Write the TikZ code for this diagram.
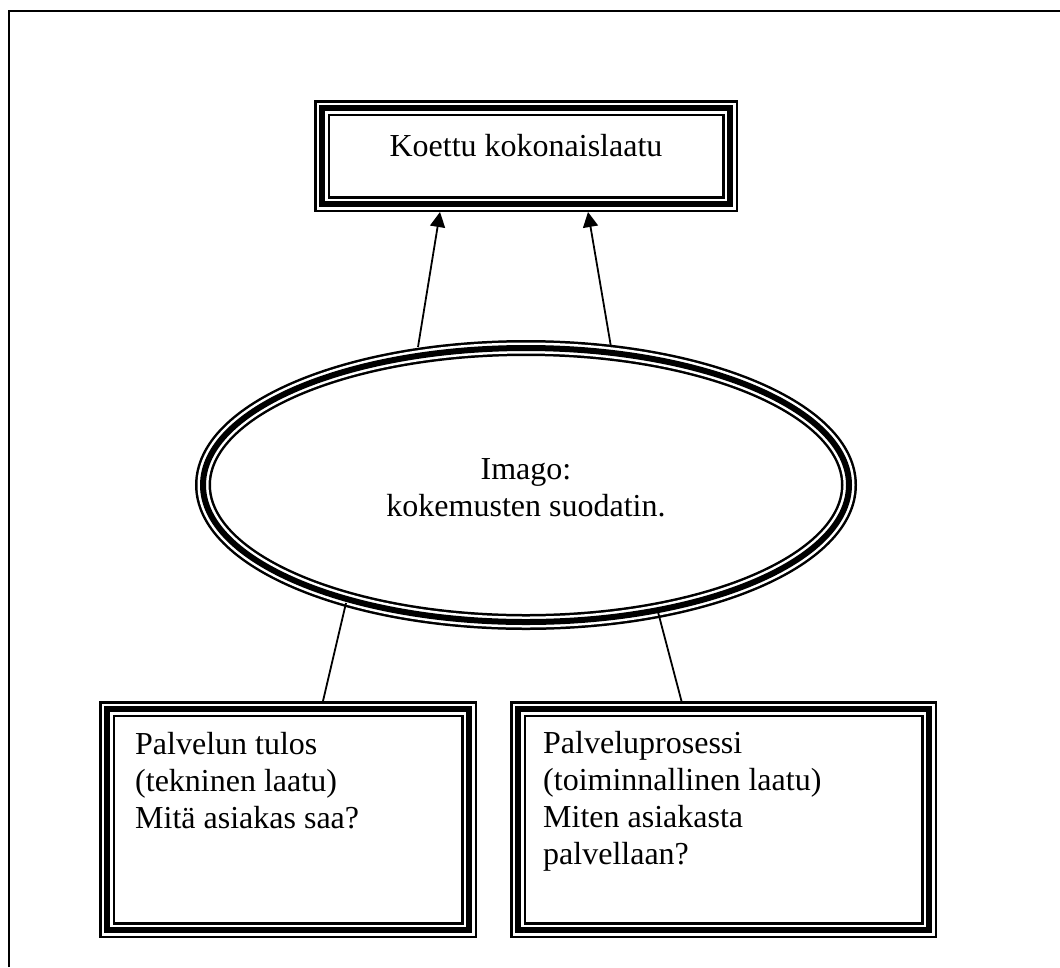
\documentclass[tikz,border=0pt]{standalone}
\usepackage{fontspec}
\setmainfont{Liberation Serif}
\usetikzlibrary{arrows.meta,shapes.geometric}
\begin{document}
\begin{tikzpicture}[x=1pt,y=-1pt,
  layA/.style={line width=16pt},
  layB/.style={line width=11pt, white},
  layC/.style={line width=6pt},
  frm/.style={inner sep=0pt, outer sep=0pt, draw=none},
  txt/.style={inner sep=0pt, font=\fontsize{32pt}{37pt}\selectfont, align=left},
  conn/.style={line width=1.8pt},
  arr/.style={conn, -{Triangle[length=15pt,width=15pt]}}]
\useasboundingbox (0,0) rectangle (1060,967);
% page frame
\draw[line width=2.2pt] (9,967) -- (9,11) -- (1060,11);
% nodes
\node[frm, minimum width=408pt, minimum height=96pt] (top) at (526,156) {};
\node[frm, ellipse, minimum width=646pt, minimum height=274pt] (ell) at (526,485) {};
\node[frm, minimum width=362pt, minimum height=221pt] (bl) at (288,819.5) {};
\node[frm, minimum width=411pt, minimum height=221pt] (br) at (723.5,819.5) {};
% triple frames
\foreach \n in {top,bl,br}{
  \draw[layA] (\n.south west) rectangle (\n.north east);
  \draw[layB] (\n.south west) rectangle (\n.north east);
  \draw[layC] (\n.south west) rectangle (\n.north east);
}
\draw[layA] (ell.center) ellipse [x radius=323, y radius=137];
\draw[layB] (ell.center) ellipse [x radius=323, y radius=137];
\draw[layC] (ell.center) ellipse [x radius=323, y radius=137];
% texts
\node[txt, anchor=base] (ttop) at (526,156) {Koettu kokonaislaatu};
\node[txt, anchor=base] (te1) at (526,479) {Imago:};
\node[txt, anchor=base] (te2) at (526,516) {kokemusten suodatin.};
\node[txt, anchor=base west] (tl) at (135,754) {Palvelun tulos};
\node[txt, anchor=base west] (tl2) at (135,791) {(tekninen laatu)};
\node[txt, anchor=base west] (tl3) at (135,828) {Mitä asiakas saa?};
\node[txt, anchor=base west] (tr) at (543,753) {Palveluprosessi};
\node[txt, anchor=base west] (tr2) at (543,790) {(toiminnallinen laatu)};
\node[txt, anchor=base west] (tr3) at (543,827) {Miten asiakasta};
\node[txt, anchor=base west] (tr4) at (543,864) {palvellaan?};
% connectors
\coordinate (e1) at (418,347);
\coordinate (e2) at (611,347);
\coordinate (t1) at (440,212);
\coordinate (t2) at (588,212);
\coordinate (e3) at (346,603);
\coordinate (e4) at (658,612);
\coordinate (b1) at (323,701);
\coordinate (b2) at (682,703);
\draw[arr] (e1) -- (t1);
\draw[arr] (e2) -- (t2);
\draw[conn] (e3) -- (b1);
\draw[conn] (e4) -- (b2);
\end{tikzpicture}
\end{document}
